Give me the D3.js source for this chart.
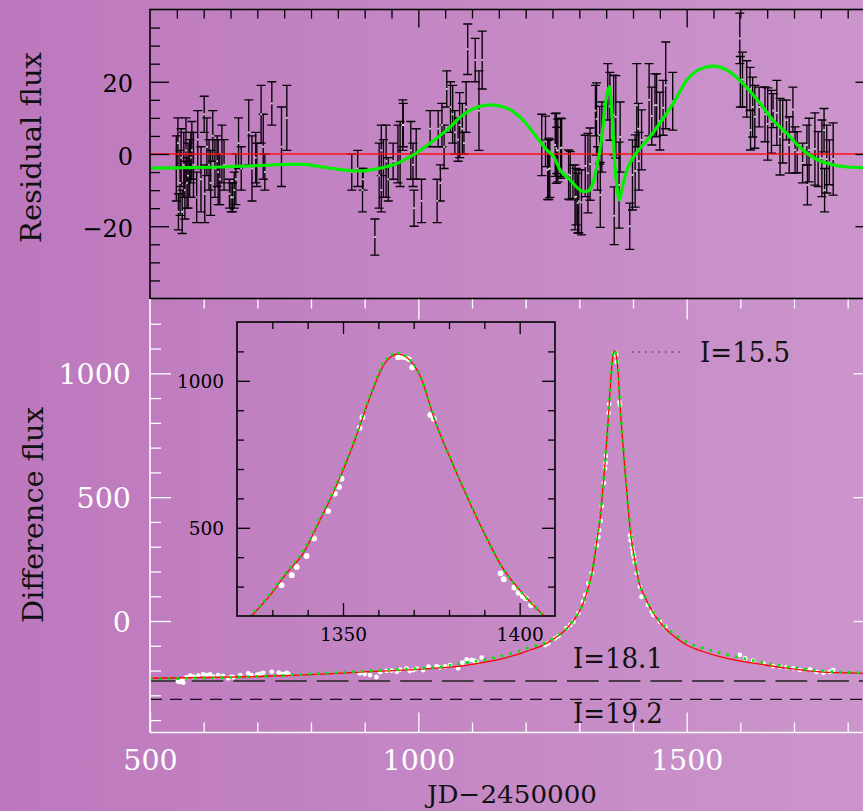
<!DOCTYPE html>
<html><head><meta charset="utf-8">
<script src="https://cdn.jsdelivr.net/npm/d3@7"></script>
<style>
html,body{margin:0;padding:0;background:#c487c4;}
svg{display:block;}
</style></head><body>
<svg id="c" width="863" height="811"></svg>
<script>
// ---------------- DATA ----------------
// Residual flux points: [JD-2450000, residual, error]
const residualPoints = [
[549,-4,9],[552,3,7],[553,-16,5],[556,-8,9],[558,-1,8],[560,-16,6],[563,-3,9],[565,-10,8],[567,1,9],[569,-8,7],
[571,-6,9],[574,-4,8],[576,-1,7],[578,1,8],[581,-3,9],[587,-12,7],[589,4,8],[595,-7,9],[601,11,5],[602,-11,8],
[606,2,8],[610,-3,7],[613,-8,9],[617,5,7],[621,-4,8],[625,-2,7],[627,-5,9],[630,-7,7],[634,0,8],[638,-3,7],
[648,-11,4],[651,-12,4],[654,-12,4],[657,-10,5],[660,-7,7],[665,3,7],[670,-4,6],[684,6,9],[690,-4,9],[697,-1,7],
[699,-3,6],[707,11,8],[711,2,9],[714,-5,5],[727,14,6],[745,2,11],[755,10,9],
[876,-5,5],[887,-4,5],[896,-10,6],[897,-7,3],[919,-23,5],[927,-6,9],[931,1,7],[931,-10,6],[935,-4,8],[940,-2,10],
[944,-7,6],[953,-2,5],[962,0,8],[966,0,9],[971,8,7],[972,8,6],[986,1,8],[990,-3,6],[992,-15,5],[996,0,7],
[1006,-13,6],[1022,7,5],[1035,-13,6],[1037,7,5],[1041,-8,5],[1044,8,6],[1048,2,6],[1053,18,5],[1060,13,7],[1064,11,8],
[1068,6,6],[1074,4,6],[1077,8,9],[1082,7,7],[1085,3,3],[1089,13,7],[1092,29,7],[1106,26,6],[1113,12,11],[1119,26,8],
[1230,2.5,8.5],[1237,3.5,7],[1241,-4.4,8.2],[1243,-4.1,8.5],[1245,-4,8],[1255,2.5,8.7],[1257,1.6,9.7],[1258,1,6.4],[1260,1,8.7],[1265,1.6,8.3],
[1267,1.8,8],[1280,-5.7,6.8],[1283,-6,6.7],[1288,-7.7,4.6],[1292,-12,9],[1294,-11.8,7.8],[1297,-13.6,8.3],[1299,-13.1,8.7],[1304,-13.4,9],[1311,-3.3,8.5],
[1316,-5.3,11],[1320,-2.8,10],[1330,12,7],[1332,9.7,10],[1334,-4,6],[1338,5.2,8],[1339,-11.3,9],[1342,4.7,9.7],[1353,17.2,7.8],[1357,13.2,9.4],
[1364,10.8,11],[1365,-17.1,8],[1368,10.3,11.4],[1374,-8.6,11.9],[1376,4.7,9.7],[1394,-20,6.4],[1399,-5.8,9.7],[1404,-4.7,10],[1407,13.5,11.5],[1410,7,7],
[1411,-2,8],[1416,3.9,8.3],[1430,15,10],[1435,10.5,8],[1441,13.5,8.7],[1444,13.5,8.7],[1450,9.1,8],[1456,12.8,7.6],[1461,19,12],[1474,14.6,8],
[1599,32,7],[1600,20,7],[1604,20.6,7.6],[1612,18,7.8],[1618,18,6],[1619,6.6,5.5],[1623,13,8.3],[1627,10.3,8.7],[1635,13,5.5],[1646,11,7.6],
[1651,8.3,10],[1658,8.9,8.7],[1661,12,4.7],[1668,11.4,9],[1674,4.8,10.6],[1679,6.2,8.7],[1686,9.4,5.5],[1691,2.5,7.8],[1698,12.3,6.2],[1702,1.1,6.4],
[1706,0.5,5.7],[1716,-2.5,5.5],[1724,2.5,5.5],[1725,-8.6,5.5],[1728,1.1,8.8],[1739,1.4,10],[1745,-1.4,7.6],[1752,-1.2,10.6],[1756,6.6,6],[1757,-10,6],
[1761,-1.4,9.4],[1766,-2.3,6.2],[1773,-1.4,10]
];
// Residual model curve (green): [JD, residual]
const residualModel = [
[500,-3.9],[560,-3.8],[630,-3.6],[700,-3.2],[780,-2.8],[830,-3.8],[886,-4.7],[929,-3.9],[960,-2.6],[990,-0.3],
[1022,3.0],[1053,6.6],[1083,10.8],[1115,13.2],[1134,13.6],[1165,12.7],[1195,9.4],[1220,4.8],[1240,1],[1252,-0.7],
[1264,-4.4],[1283,-7.2],[1296,-9.3],[1307,-10.4],[1315,-10.3],[1323,-9],[1332,-4],[1342,4.8],[1348,13],[1353,17.5],
[1356,18.6],[1359,15],[1362,8.5],[1366,-2.5],[1371,-10],[1374.5,-12.7],[1378,-11],[1382,-8],[1390,-4],[1400,-1],
[1410,1],[1430,4.5],[1450,8.5],[1475,14],[1500,20.4],[1525,23.5],[1549,24.3],[1575,23.2],[1599,20.4],[1637,14],
[1660,9.5],[1687,5.7],[1710,2],[1729,-0.3],[1750,-2],[1773,-3],[1800,-3.6],[1828,-3.8],[1850,-4]
];
// Difference flux data points: [JD, flux]
const fluxPoints = [
[552,-244],[556,-246],[560,-236],[562,-249],[568,-228],[575,-221],[581,-225],[590,-220],[599,-214],[606,-218],
[612,-215],[618,-225],[627,-218],[636,-222],[646,-231],[652,-225],[655,-227],[668,-218],[683,-211],[689,-218],
[700,-216],[705,-213],[711,-209],[727,-205],[740,-208],[748,-213],[755,-209],[758,-214],
[891,-211],[900,-214],[910,-218],[922,-226],[929,-206],[941,-201],[950,-200],[960,-205],[966,-196],[978,-191],
[984,-202],[991,-198],[997,-192],[1009,-198],[1019,-184],[1034,-182],[1040,-187],[1050,-183],[1059,-178],[1074,-191],
[1082,-168],[1090,-155],[1099,-157],[1104,-160],[1109,-165],[1118,-148],
[1236,-97],[1242,-90],[1255,-70],[1261,-61],[1276,-29],[1283,-16],[1289,-3],[1298,31],[1307,78],[1311,105],
[1317,152],[1323,193],
[1332.6,305],[1335.5,339],[1336.9,367],[1339.7,404],[1341.8,464],[1345.8,557],[1347.7,616],[1348.9,639],[1349.6,667],
[1354.7,840],[1355.5,876],[1365.6,1080],[1366.5,1082],[1367.5,1080],[1368.6,1074],[1369.6,1046],[1374.7,884],[1375.7,871],
[1394.6,345],[1395.5,325],[1398.5,297],[1399.7,279],[1400.9,268],[1401.8,260],[1403.2,237],
[1407,193],[1413,138],[1416,98],[1428,65],[1435,38],[1438,24],[1450,-3],[1460,-23],
[1599,-137],[1609,-151],[1624,-160],[1643,-171],[1661,-182],[1674,-184],[1686,-187],[1699,-191],[1711,-198],[1730,-195],
[1742,-205],[1755,-209],[1767,-205],[1773,-198]
];
// Model 1 (red, solid): [JD, flux]
const modelRed = [
[500,-231],[600,-228],[700,-224],[780,-218],[860,-210],[940,-201],[1000,-195],[1040,-189],[1083,-181],[1120,-168],
[1147,-157],[1180,-138],[1208,-117],[1225,-104],[1240,-89],[1255,-68],[1270,-44],[1283,-15],[1296,24],[1305,60],
[1314,115],[1320,160],[1324,200],[1329,265],[1334,345],[1339,418],[1343,514],[1348,639],[1353,786],[1358,956],
[1362,1063],[1365.6,1091],[1368,1080],[1372,1012],[1376,865],[1381,718],[1386,582],[1390.5,469],[1395,367],[1400,288],
[1407,200],[1412,150],[1422,98],[1438,32],[1450,-5],[1469,-48],[1485,-75],[1500,-97],[1530,-123],[1562,-144],
[1600,-162],[1624,-170],[1686,-190],[1748,-205],[1800,-209],[1850,-213]
];
// Model 2 (green, dotted): [JD, flux]
const modelGreen = [
[500,-234],[600,-230],[700,-224],[780,-216],[860,-207],[940,-198],[1000,-192],[1040,-186],[1083,-170],[1120,-158],
[1147,-145],[1180,-127],[1208,-105],[1225,-96],[1240,-85],[1255,-66],[1270,-43],[1283,-14],[1296,25],[1305,61],
[1314,116],[1320,162],[1324,203],[1329,270],[1334,350],[1339,425],[1343,520],[1348,645],[1353,792],[1358,962],
[1362,1070],[1365.3,1094],[1368,1082],[1372,1012],[1376,866],[1381,720],[1386,585],[1390.5,470],[1395,367],[1400,288],
[1407,200],[1412,150],[1422,100],[1438,35],[1450,2],[1469,-40],[1485,-65],[1500,-85],[1530,-109],[1562,-129],
[1594,-145],[1624,-160],[1686,-184],[1748,-201],[1800,-207],[1850,-211]
];
// Magnitude reference levels
const levelNames = ["I=15.5","I=18.1","I=19.2"];
const levelFlux = [1086,-242,-316];
// Tick values
const xMajor = [500,1000,1500];
const yTopMajor = [-20,0,20];
const yBotMajor = [0,500,1000];
const insetXMajor = [1350,1400];
const insetYMajor = [500,1000];
const xLabel = "JD\u22122450000";
const yTopLabel = "Residual flux";
const yBotLabel = "Difference flux";

// ---------------- DRAWING ----------------
const FONT = "'DejaVu Serif', serif";
const W = 863, H = 811;
const fmt = d3.format("d");
const svg = d3.select("#c");
const defs = svg.append("defs");
const grad = defs.append("linearGradient").attr("id","bg").attr("x1",0).attr("x2",1).attr("y1",0).attr("y2",0);
grad.append("stop").attr("offset","0%").attr("stop-color","#bd78bd");
grad.append("stop").attr("offset","100%").attr("stop-color","#cb95cb");
svg.append("rect").attr("width",W).attr("height",H).attr("fill","url(#bg)");

const x = d3.scaleLinear([500,1850],[150,874.5]);
const yTop = d3.scaleLinear([-40,40],[298.5,9.5]);
const yBot = d3.scaleLinear([-450,1300],[732.5,299]);
const xIn = d3.scaleLinear([1320,1410],[237,555]);
const yIn = d3.scaleLinear([200,1200],[616,322]);

function clip(id, x0, y0, x1, y1){
  defs.append("clipPath").attr("id",id).append("rect")
    .attr("x",x0).attr("y",y0).attr("width",x1-x0).attr("height",y1-y0);
  return "url(#"+id+")";
}
const minor = (arr, maj) => arr.filter(v => !maj.some(m => Math.abs(m-v) < 1e-9));

function drawAxis(gen, scale, tr, vals, size, color, sw, opts){
  opts = opts || {};
  const g = svg.append("g").attr("transform", tr);
  const a = gen(scale).tickValues(vals).tickSizeInner(size).tickSizeOuter(0)
    .tickPadding(opts.pad || 3).tickFormat(fmt);
  g.call(a);
  g.select(".domain").remove();
  g.attr("font-family", null).attr("font-size", null);
  g.selectAll(".tick line").attr("stroke", color).attr("stroke-width", sw);
  if (!opts.labels) g.selectAll(".tick text").remove();
  else {
    g.selectAll(".tick text").attr("fill", opts.textColor || color)
      .attr("font-family", FONT).attr("font-size", opts.fs);
    if (opts.dy) g.selectAll(".tick text").attr("dy", opts.dy);
  }
  return g;
}

// ===== Top panel =====
const topClip = clip("topclip", 150, 9.5, 874.5, 298.5);
const gTop = svg.append("g").attr("clip-path", topClip);
// error bars
const eb = gTop.append("g").attr("stroke","#050005").attr("stroke-width",1.35);
residualPoints.forEach(p => {
  const cx = x(p[0]), y1 = yTop(p[1]+p[2]), y2 = yTop(p[1]-p[2]);
  eb.append("line").attr("x1",cx).attr("x2",cx).attr("y1",y1).attr("y2",y2);
  eb.append("line").attr("x1",cx-4.5).attr("x2",cx+4.5).attr("y1",y1).attr("y2",y1);
  eb.append("line").attr("x1",cx-4.5).attr("x2",cx+4.5).attr("y1",y2).attr("y2",y2);
});
gTop.append("g").selectAll("rect").data(residualPoints).join("rect")
  .attr("x", d => x(d[0])-0.9).attr("y", d => yTop(d[1])-0.9)
  .attr("width",1.8).attr("height",1.8).attr("fill","#ffffff").attr("opacity",0.8);
// zero line
gTop.append("line").attr("x1",x(500)).attr("x2",x(1850)).attr("y1",yTop(0)).attr("y2",yTop(0))
  .attr("stroke","#ff1010").attr("stroke-width",1.5);
// residual model
gTop.append("path").datum(residualModel)
  .attr("d", d3.line().x(d=>x(d[0])).y(d=>yTop(d[1])).curve(d3.curveMonotoneX))
  .attr("fill","none").attr("stroke","#00f000").attr("stroke-width",3.2);
// frame
svg.append("rect").attr("x",150).attr("y",9.5).attr("width",724.5).attr("height",289)
  .attr("fill","none").attr("stroke","#000").attr("stroke-width",1.6);
// top-panel axes (black, inward)
const ytMinor = minor(d3.range(-35,40,5), yTopMajor);
drawAxis(d3.axisLeft, yTop, "translate(150,0)", ytMinor, -10, "#000", 1.3);
drawAxis(d3.axisLeft, yTop, "translate(150,0)", yTopMajor, -19, "#000", 1.3,
  {labels:true, pad:17, fs:24, dy:"0.42em", textColor:"#000"});
drawAxis(d3.axisRight, yTop, "translate(874.5,0)", ytMinor, -10, "#000", 1.3);
drawAxis(d3.axisRight, yTop, "translate(874.5,0)", yTopMajor, -19, "#000", 1.3);
const xtMajor = [1000,1500];
drawAxis(d3.axisTop, x, "translate(0,9.5)", minor(d3.range(550,1850,50), xtMajor), -9, "#000", 1.3);
drawAxis(d3.axisTop, x, "translate(0,9.5)", xtMajor, -18, "#000", 1.3);

// ===== Bottom panel =====
const botClip = clip("botclip", 150, 299, 874.5, 732.5);
const gBot = svg.append("g").attr("clip-path", botClip);
// level lines
gBot.append("line").attr("x1",x(500)).attr("x2",x(1850)).attr("y1",yBot(levelFlux[1])).attr("y2",yBot(levelFlux[1]))
  .attr("stroke","#4a3a4a").attr("stroke-width",2).attr("stroke-dasharray","31.7 10");
gBot.append("line").attr("x1",x(500)).attr("x2",x(1850)).attr("y1",yBot(levelFlux[2])).attr("y2",yBot(levelFlux[2]))
  .attr("stroke","#150a15").attr("stroke-width",1.3).attr("stroke-dasharray","12 8");
gBot.append("line").attr("x1",x(1398)).attr("x2",x(1497)).attr("y1",yBot(levelFlux[0])).attr("y2",yBot(levelFlux[0]))
  .attr("stroke","#3a2a3a").attr("stroke-width",1.2).attr("stroke-dasharray","1.6 5");
// data
gBot.append("g").selectAll("circle").data(fluxPoints).join("circle")
  .attr("cx", d=>x(d[0])).attr("cy", d=>yBot(d[1])).attr("r",2.4).attr("fill","#ffffff");
const lineBot = d3.line().x(d=>x(d[0])).y(d=>yBot(d[1])).curve(d3.curveMonotoneX);
gBot.append("path").datum(modelRed).attr("d", lineBot).attr("fill","none").attr("stroke","#ff0000").attr("stroke-width",1.3);
gBot.append("path").datum(modelGreen).attr("d", lineBot).attr("fill","none").attr("stroke","#00e600")
  .attr("stroke-width",2.8).attr("stroke-dasharray","2.6 6.2");
// level labels
const lvlPos = [[1525, 10], [1288, -13], [1288, 24]];
levelNames.forEach((s,i) => {
  svg.append("text").attr("x", x(lvlPos[i][0])).attr("y", yBot(levelFlux[i]) + lvlPos[i][1])
    .attr("font-family",FONT).attr("font-size",27).attr("fill","#111")
    .attr("textLength", 90).attr("lengthAdjust","spacingAndGlyphs").text(s);
});
// axes lines (white)
svg.append("line").attr("x1",150).attr("x2",150).attr("y1",299).attr("y2",732.5).attr("stroke","#fff").attr("stroke-width",1.6);
svg.append("line").attr("x1",150).attr("x2",874.5).attr("y1",732.5).attr("y2",732.5).attr("stroke","#fff").attr("stroke-width",1.6);
svg.append("line").attr("x1",874.5).attr("x2",874.5).attr("y1",299).attr("y2",732.5).attr("stroke","#fff").attr("stroke-width",1.6);
const ybMinor = minor(d3.range(-400,1300,100), yBotMajor);
drawAxis(d3.axisLeft, yBot, "translate(150,0)", ybMinor, -11, "#fff", 1.3);
drawAxis(d3.axisLeft, yBot, "translate(150,0)", yBotMajor, -21, "#fff", 1.3,
  {labels:true, pad:19, fs:28.5, dy:"0.36em", textColor:"#fff"});
drawAxis(d3.axisRight, yBot, "translate(874.5,0)", ybMinor, -11, "#fff", 1.3);
drawAxis(d3.axisRight, yBot, "translate(874.5,0)", yBotMajor, -21, "#fff", 1.3);
const xbMinor = minor(d3.range(600,1850,100), xMajor);
drawAxis(d3.axisBottom, x, "translate(0,732.5)", xbMinor, -10, "#fff", 1.3);
drawAxis(d3.axisBottom, x, "translate(0,732.5)", xMajor, -20, "#fff", 1.3,
  {labels:true, pad:17, fs:28.5, textColor:"#fff"});
drawAxis(d3.axisTop, x, "translate(0,299.5)", xbMinor, -9, "#fff", 1.3);
drawAxis(d3.axisTop, x, "translate(0,299.5)", xMajor.filter(v=>v>500), -20, "#fff", 1.3);

// ===== Inset =====
const inClip = clip("inclip", 237, 322, 555, 616);
const gIn = svg.append("g").attr("clip-path", inClip);
const inPts = fluxPoints.filter(d => d[0] >= 1315 && d[0] <= 1415);
gIn.append("g").selectAll("circle").data(inPts).join("circle")
  .attr("cx", d=>xIn(d[0])).attr("cy", d=>yIn(d[1])).attr("r",2.9).attr("fill","#ffffff");
const lineIn = d3.line().x(d=>xIn(d[0])).y(d=>yIn(d[1])).curve(d3.curveMonotoneX);
const inRange = arr => arr.filter(d => d[0] >= 1300 && d[0] <= 1430);
gIn.append("path").datum(inRange(modelRed)).attr("d", lineIn).attr("fill","none").attr("stroke","#ff0000").attr("stroke-width",1.3);
gIn.append("path").datum(inRange(modelGreen)).attr("d", lineIn).attr("fill","none").attr("stroke","#00e600")
  .attr("stroke-width",2.6).attr("stroke-dasharray","2.4 4.6");
svg.append("rect").attr("x",237).attr("y",322).attr("width",318).attr("height",294)
  .attr("fill","none").attr("stroke","#000").attr("stroke-width",1.6);
const ixMinor = minor(d3.range(1330,1410,10), insetXMajor);
const iyMinor = minor(d3.range(300,1200,100), insetYMajor);
drawAxis(d3.axisBottom, xIn, "translate(0,616)", ixMinor, -6, "#000", 1.3);
drawAxis(d3.axisBottom, xIn, "translate(0,616)", insetXMajor, -13, "#000", 1.3,
  {labels:true, pad:12, fs:18.5, textColor:"#000"});
drawAxis(d3.axisTop, xIn, "translate(0,322)", ixMinor, -7, "#000", 1.3);
drawAxis(d3.axisTop, xIn, "translate(0,322)", insetXMajor, -12, "#000", 1.3);
drawAxis(d3.axisLeft, yIn, "translate(237,0)", iyMinor, -7, "#000", 1.3);
drawAxis(d3.axisLeft, yIn, "translate(237,0)", insetYMajor, -13, "#000", 1.3,
  {labels:true, pad:13, fs:18.5, dy:"0.36em", textColor:"#000"});
drawAxis(d3.axisRight, yIn, "translate(555,0)", iyMinor, -7, "#000", 1.3);
drawAxis(d3.axisRight, yIn, "translate(555,0)", insetYMajor, -13, "#000", 1.3);

// ===== Axis titles =====
svg.append("text").attr("transform","translate(41,147.5) rotate(-90)").attr("text-anchor","middle")
  .attr("font-family",FONT).attr("font-size",28).attr("fill","#111")
  .attr("textLength",191).attr("lengthAdjust","spacingAndGlyphs").text(yTopLabel);
svg.append("text").attr("transform","translate(43,515) rotate(-90)").attr("text-anchor","middle")
  .attr("font-family",FONT).attr("font-size",28).attr("fill","#111")
  .attr("textLength",216).attr("lengthAdjust","spacingAndGlyphs").text(yBotLabel);
svg.append("text").attr("x",512).attr("y",803).attr("text-anchor","middle")
  .attr("font-family",FONT).attr("font-size",25).attr("fill","#111")
  .attr("textLength",170).attr("lengthAdjust","spacingAndGlyphs").text(xLabel);
</script>
</body></html>
